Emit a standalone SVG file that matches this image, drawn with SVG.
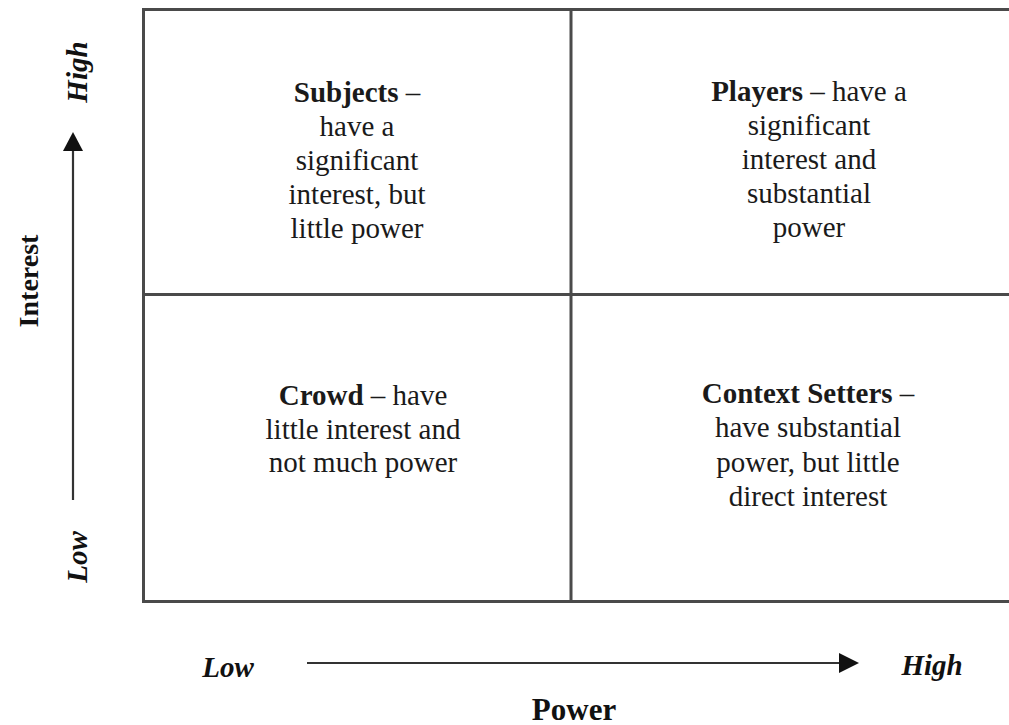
<svg xmlns="http://www.w3.org/2000/svg" width="1009" height="725" viewBox="0 0 1009 725">
<defs>
<style>
.grid{stroke:#4a4a4a;stroke-width:3;fill:none}
.axis{stroke:#333;stroke-width:2.2;fill:none}
.head{fill:#111}
.t{font-family:"Liberation Serif","Times New Roman",serif;font-size:29px;fill:#1a1a1a;text-anchor:middle}
.b{font-weight:bold}
.ax{font-family:"Liberation Serif","Times New Roman",serif;font-size:29px;font-weight:bold;font-style:italic;fill:#111;text-anchor:middle}
.lab{font-family:"Liberation Serif","Times New Roman",serif;font-size:31px;font-weight:bold;fill:#111;text-anchor:middle}
</style>
</defs>
<rect width="1009" height="725" fill="#fff"/>
<g id="grid">
<path class="grid" d="M1012,9.5 H143.5 V601.5 H1012"/>
<path class="grid" d="M571,9.5 V601.5 M143.5,294.5 H1012"/>
</g>
<g id="connectors">
<line class="axis" x1="73" y1="500" x2="73" y2="150"/>
<path class="head" d="M73,132 L83,151 L63,151 Z"/>
<line class="axis" x1="307" y1="663" x2="840" y2="663"/>
<path class="head" d="M859,663 L839,653 L839,673 Z"/>
</g>
<g id="subjects">
<text class="t" x="357" y="102"><tspan class="b">Subjects</tspan> –</text>
<text class="t" x="357" y="136">have a</text>
<text class="t" x="357" y="170">significant</text>
<text class="t" x="357" y="204">interest, but</text>
<text class="t" x="357" y="238">little power</text>
</g>
<g id="players">
<text class="t" x="809" y="101"><tspan class="b">Players</tspan> – have a</text>
<text class="t" x="809" y="135">significant</text>
<text class="t" x="809" y="169">interest and</text>
<text class="t" x="809" y="203">substantial</text>
<text class="t" x="809" y="237">power</text>
</g>
<g id="crowd">
<text class="t" x="363" y="405"><tspan class="b">Crowd</tspan> – have</text>
<text class="t" x="363" y="439">little interest and</text>
<text class="t" x="363" y="472">not much power</text>
</g>
<g id="context-setters">
<text class="t" x="808" y="403"><tspan class="b">Context Setters</tspan> –</text>
<text class="t" x="808" y="437">have substantial</text>
<text class="t" x="808" y="472">power, but little</text>
<text class="t" x="808" y="506">direct interest</text>
</g>
<g id="axis-labels">
<text class="ax" transform="translate(87,72) rotate(-90)">High</text>
<text class="ax" transform="translate(87,557) rotate(-90)">Low</text>
<text class="lab" style="font-size:28px" transform="translate(38,281) rotate(-90)">Interest</text>
<text class="ax" x="228" y="677">Low</text>
<text class="ax" x="932" y="675">High</text>
<text class="lab" x="574" y="720">Power</text>
</g>
</svg>
